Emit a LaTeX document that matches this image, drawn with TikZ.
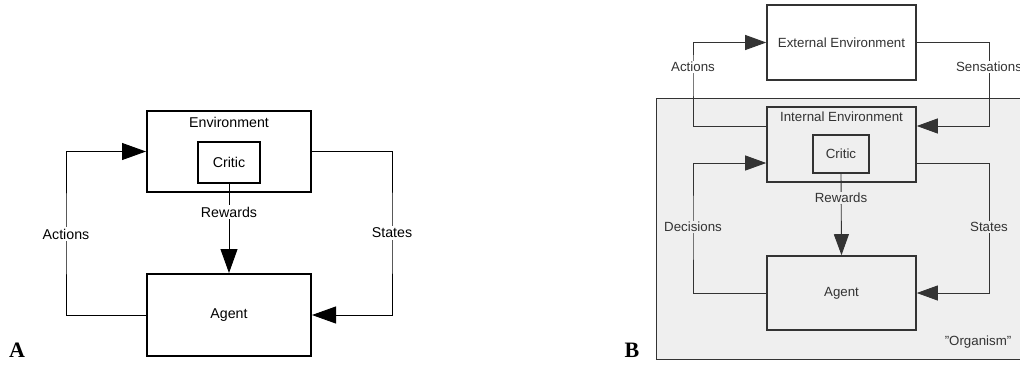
\documentclass[tikz,border=0pt]{standalone}
\usepackage{fontspec}
\setmainfont{Liberation Sans}[Ligatures=Common]
\newfontfamily\panelfont{Liberation Serif}
\usetikzlibrary{arrows.meta}
\definecolor{orgfill}{HTML}{EFEFEF}
\definecolor{dk}{HTML}{333333}
\begin{document}
\begin{tikzpicture}[x=1pt,y=-1pt,
  boxA/.style={draw=black,line width=2pt,rectangle,inner sep=0pt},
  boxB/.style={draw=dk,line width=1.6pt,rectangle,inner sep=0pt},
  conA/.style={draw=black,line width=0.9pt},
  conB/.style={draw=dk,line width=0.9pt},
  arrA/.style={conA,-{Triangle[length=24pt,width=17pt]}},
  arrB/.style={conB,-{Triangle[length=21pt,width=15pt]}},
  txtA/.style={font=\fontsize{14.2}{16}\selectfont,inner sep=1.5pt},
  txtB/.style={font=\fontsize{13.3}{15}\selectfont,text=dk,inner sep=1.5pt},
  panel/.style={font=\panelfont\bfseries\fontsize{22}{24}\selectfont,inner sep=0pt}
]
\useasboundingbox (0,0) rectangle (1020,368);
\clip (0,0) rectangle (1020,368);

% ---------------- Panel A ----------------
\node[boxA,minimum width=164pt,minimum height=81pt] (envA) at (229,151.5) {};
\node[txtA] (envAl) at (229,122) {Environment};
\node[boxA,minimum width=62pt,minimum height=41pt,txtA] (critA) at (229,162.5) {Critic};
\node[boxA,minimum width=164pt,minimum height=82pt,txtA] (agentA) at (229,315) {Agent};

\coordinate (actA) at (66,234);
\coordinate (stA) at (392,233);
\coordinate (rewA) at (229,212);

\draw[arrA] (agentA.west) -| (actA) |- (envA.west);
\draw[arrA] (envA.east) -| (stA) |- (agentA.east);
\draw[arrA] (critA.south) -- (agentA.north);

\node[txtA,fill=white] (actAl) at (actA) {Actions};
\node[txtA,fill=white] (stAl) at (stA) {States};
\node[txtA,fill=white] (rewAl) at (rewA) {Rewards};

\node[panel] (pA) at (17,350) {A};

% ---------------- Panel B ----------------
\fill[orgfill] (656,98) rectangle (1030,359);
\draw[dk,line width=1pt] (1030,98) -- (656,98) -- (656,359) -- (1030,359);

\node[boxB,fill=white,minimum width=149pt,minimum height=75pt,txtB] (extB) at (841.5,42.5) {External Environment};
\node[boxB,minimum width=149pt,minimum height=75pt] (intB) at (841.5,144.5) {};
\node[txtB] (intBl) at (841.5,117) {Internal Environment};
\node[boxB,minimum width=56pt,minimum height=38pt,txtB] (critB) at (841,154) {Critic};
\node[boxB,minimum width=149pt,minimum height=74pt,txtB] (agentB) at (841.5,293) {Agent};

\coordinate (actB) at (693,67);
\coordinate (senB) at (989,67);
\coordinate (decB) at (693,227);
\coordinate (stB) at (989,227);
\coordinate (rewB) at (841,198);

\draw[arrB] ([yshift=18.5pt]intB.west) -| (actB) |- (extB.west);
\draw[arrB] (extB.east) -| (senB) |- ([yshift=18.5pt]intB.east);
\draw[arrB] (agentB.west) -| (decB) |- ([yshift=-18.5pt]intB.west);
\draw[arrB] ([yshift=-18.5pt]intB.east) -| (stB) |- (agentB.east);
\draw[arrB] (critB.south) -- (agentB.north);

\node[txtB,fill=white] (actBl) at (actB) {Actions};
\node[txtB,fill=white] (senBl) at (senB) {Sensations};
\node[txtB,fill=orgfill] (decBl) at (decB) {Decisions};
\node[txtB,fill=orgfill] (stBl) at (stB) {States};
\node[txtB,fill=orgfill] (rewBl) at (rewB) {Rewards};
\node[txtB] (orgBl) at (978,342) {"Organism"};

\node[panel] (pB) at (632,350) {B};
\end{tikzpicture}
\end{document}
